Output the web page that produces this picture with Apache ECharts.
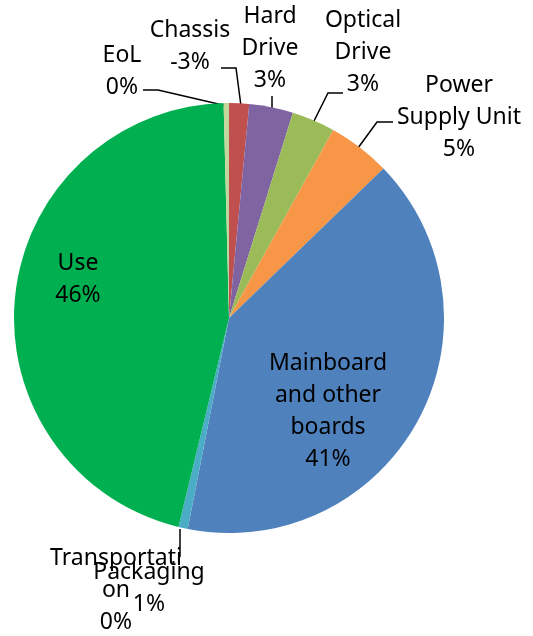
<!DOCTYPE html>
<html>
<head>
<meta charset="utf-8">
<script src="https://cdn.jsdelivr.net/npm/echarts@6/dist/echarts.min.js"></script>
<style>
html,body{margin:0;padding:0;background:#fff;}
#c{width:533px;height:636px;}
</style>
</head>
<body>
<div id="c"></div>
<script>
// Data (slice shares, percent)
var categories = ['Chassis', 'Hard Drive', 'Optical Drive', 'Power Supply Unit', 'Mainboard and other boards', 'Packaging', 'Transportation', 'Use', 'EoL'];
var sliceValues = [1.5, 3.3, 3.25, 4.7, 40.3, 0.7, 0, 45.8, 0.4];
var labelNames = ['Chassis', 'Hard\nDrive', 'Optical\nDrive', 'Power\nSupply Unit', 'Mainboard\nand other\nboards', 'Packaging', 'Transportati\non', 'Use', 'EoL'];
var labelPercents = ['-3%', '3%', '3%', '5%', '41%', '1%', '0%', '46%', '0%'];
var colors = ['#C0504D', '#8064A2', '#9BBB59', '#F79646', '#4F81BD', '#4BACC6', '#1F497D', '#00B050', '#C3D69B'];

// label placement (label block centre) and leader lines
var labelPos = [
  {x: 190, y: 46, line: [[241,106],[236,68],[221,68]]},
  {x: 270, y: 48, line: [[272,110],[272,103],[272,96]]},
  {x: 363, y: 52, line: [[313,123],[328,93],[343,93]]},
  {x: 459, y: 117, line: [[358,148],[377,122],[393,122]]},
  {x: 328, y: 411, line: null},
  {x: 149, y: 588, line: null},
  {x: 116, y: 590, line: [[180,529],[180,543],[180,557]]},
  {x: 78, y: 279, line: null},
  {x: 122, y: 71, line: [[227,106],[158,90],[143,90]]}
];

var data = categories.map(function (c, i) {
  var item = {
    name: c,
    value: sliceValues[i],
    itemStyle: {color: colors[i]},
    label: {formatter: labelNames[i] + '\n' + labelPercents[i]}
  };
  if (!labelPos[i].line) item.labelLine = {show: false};
  return item;
});

var chart = echarts.init(document.getElementById('c'), null, {renderer: 'canvas'});
chart.setOption({
  animation: false,
  backgroundColor: '#fff',
  series: [{
    type: 'pie',
    center: [229, 318],
    radius: 215,
    startAngle: 90,
    clockwise: true,
    avoidLabelOverlap: false,
    minShowLabelAngle: 0,
    data: data,
    itemStyle: {borderWidth: 0},
    label: {
      show: true,
      position: 'outside',
      color: '#000',
      fontFamily: 'Noto Sans',
      fontSize: 23,
      lineHeight: 32,
      align: 'center'
    },
    labelLine: {
      show: true,
      lineStyle: {color: '#000', width: 1.5}
    },
    labelLayout: function (params) {
      var p = labelPos[params.dataIndex];
      var r = {x: p.x, y: p.y, align: 'center', verticalAlign: 'middle'};
      if (p.line) r.labelLinePoints = p.line;
      return r;
    }
  }]
});
</script>
</body>
</html>
